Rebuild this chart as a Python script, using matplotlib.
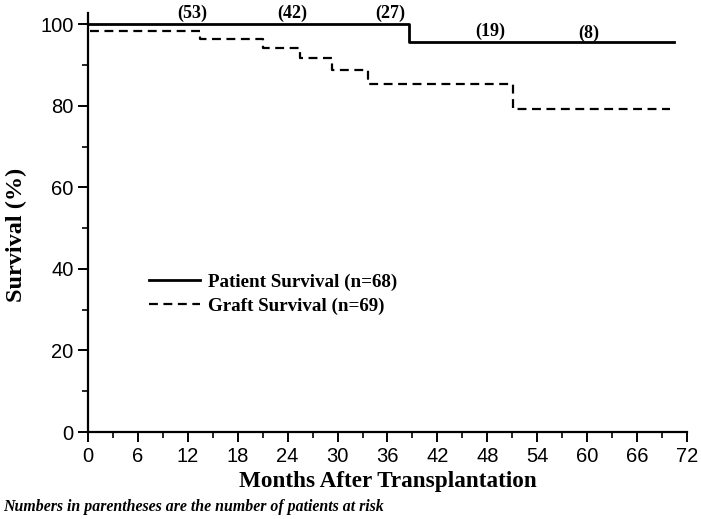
import numpy as np
import matplotlib.pyplot as plt
from matplotlib.ticker import MultipleLocator

# =========================================================
# DATA
# =========================================================

patient_months = [0, 38.6, 70.4]
patient_surv = [100.0, 95.6, 95.6]

graft_months = [0.2, 13.5, 21.0, 25.5, 29.3, 33.7, 51.1, 70.0]
graft_surv = [98.5, 96.5, 94.1, 91.7, 88.7, 85.3, 79.2, 79.2]

risk_months = [12.5, 24.6, 36.3, 48.3, 60.2]
risk_counts = [53, 42, 27, 19, 8]
risk_y = [102.8, 102.8, 102.6, 98.2, 97.9]

x_ticks = list(range(0, 73, 6))
y_ticks = [0, 20, 40, 60, 80, 100]

SERIF = "Liberation Serif"
SANS = "Liberation Sans"

# =========================================================
# FIGURE
# =========================================================

fig = plt.figure(figsize=(7.01, 5.19), dpi=100)
ax = fig.add_axes([0.1255, 0.1676, 0.8545, 0.8074])

ax.step(patient_months, patient_surv, where="post", color="black", lw=2.0,
        label="Patient Survival (n=68)")
ax.step(graft_months, graft_surv, where="post", color="black", lw=1.6,
        linestyle=(0, (4, 2.5)), label="Graft Survival (n=69)")

for m, n, y in zip(risk_months, risk_counts, risk_y):
    ax.text(m, y, f"({n})", ha="center", va="center", fontsize=13,
            fontweight="bold", family=SERIF)

ax.set_xlim(0, 72)
ax.set_ylim(0, 102.8)
ax.set_xticks(x_ticks)
ax.set_yticks(y_ticks)
ax.xaxis.set_minor_locator(MultipleLocator(3))
ax.yaxis.set_minor_locator(MultipleLocator(10))

for s in ["top", "right"]:
    ax.spines[s].set_visible(False)
for s in ["left", "bottom"]:
    ax.spines[s].set_linewidth(1.6)

ax.tick_params(which="major", direction="out", length=7, width=1.4,
               labelsize=14.5)
ax.tick_params(which="minor", direction="out", length=4, width=1.2)
for lbl in ax.get_xticklabels() + ax.get_yticklabels():
    lbl.set_family(SANS)

ax.set_xlabel("Months After Transplantation", fontsize=16.7, fontweight="bold",
              family=SERIF, labelpad=4)
ax.set_ylabel("Survival (%)", fontsize=17.5, fontweight="bold", family=SERIF)
ax.yaxis.set_label_coords(-0.102, 0.47)

leg = ax.legend(loc="upper left", bbox_to_anchor=(0.073, 0.42), frameon=False,
                handlelength=2.7, handletextpad=0.4, labelspacing=0.35,
                prop={"family": SERIF, "weight": "bold", "size": 13.7})

fig.text(0.005, 0.008, "Numbers in parentheses are the number of patients at risk",
         fontsize=11.4, fontweight="bold", fontstyle="italic", family=SERIF,
         ha="left", va="bottom")

fig.savefig("out.png", dpi=100)
plt.close(fig)
